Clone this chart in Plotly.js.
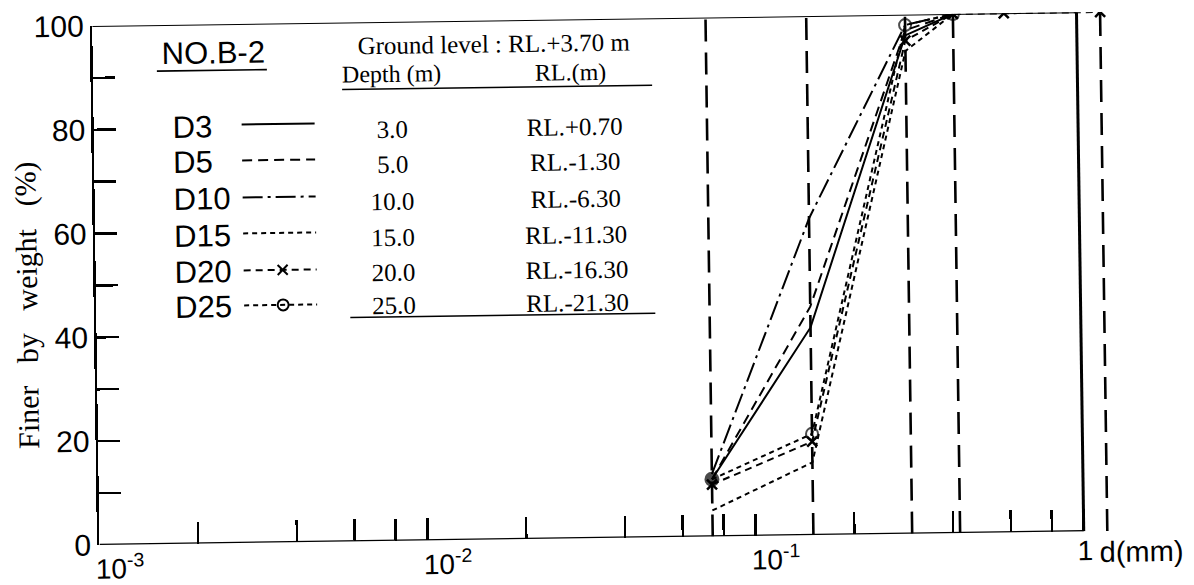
<!DOCTYPE html>
<html>
<head>
<meta charset="utf-8">
<script src="https://cdn.plot.ly/plotly-3.0.1.min.js"></script>
<style>
html,body{margin:0;padding:0;background:#fff;overflow:hidden;}
#chart{width:1194px;height:585px;transform:rotate(-0.8deg);transform-origin:597px 292px;}
</style>
</head>
<body>
<div id="chart"></div>
<script>
// ---------------- data ----------------
const sieveX = [0.074, 0.15, 0.3, 0.42];
const d3Val  = [11, 40, 96, 100];
const d5Val  = [11, 44, 97, 100];
const d10Val = [12, 61, 98, 100];
const d15Val = [5, 14, 93, 100];
const d20X   = [0.074, 0.15, 0.3, 0.42, 0.6, 1.18];
const d20Val = [10, 18, 95, 100, 100, 100];
const d25Val = [11, 19.5, 98, 100];

const refLinesX = [0.074, 0.15, 0.3, 0.42, 1.18];   // sieve reference lines (mm)

const seriesNames = ['D3', 'D5', 'D10', 'D15', 'D20', 'D25'];
const depths = ['3.0', '5.0', '10.0', '15.0', '20.0', '25.0'];
const rls = ['RL.+0.70', 'RL.-1.30', 'RL.-6.30', 'RL.-11.30', 'RL.-16.30', 'RL.-21.30'];

const xMajorVals = [0.001, 0.01, 0.1, 1];
const xMajorText = ['10<sup>-3</sup>', '10<sup>-2</sup>', '10<sup>-1</sup>', '1'];
const xMinorVals = [0.002,0.004,0.006,0.008,0.02,0.04,0.06,0.08,0.2,0.4,0.6,0.8];
const yMajorVals = [0, 20, 40, 60, 80, 100];
const yMinorVals = [10, 30, 50, 70, 90];

// ---------------- layout helpers ----------------
const M = {l:96, r:71, t:19, b:47};
const PW = 1194 - M.l - M.r, PH = 585 - M.t - M.b;
const px = p => (p - M.l) / PW;
const py = p => (585 - M.b - p) / PH;

const SANS = 'Liberation Sans, Arial, sans-serif';
const SERIF = 'Liberation Serif, Times New Roman, serif';

const styles = [
  {dash:'solid', symbol:null},
  {dash:'10px,6px', symbol:null},
  {dash:'20px,5px,3px,5px', symbol:null},
  {dash:'5px,4px', symbol:null},
  {dash:'7px,5px', symbol:'x-thin-open'},
  {dash:'5px,4px', symbol:'circle-open'}
];

const traces = [];

// reference sieve lines
refLinesX.forEach(v => {
  traces.push({x:[v, v], y:[0, 100], mode:'lines', showlegend:false, hoverinfo:'skip',
    line:{color:'#000', width:2.6, dash:'22px,11px'}});
});

// frame: top, right, bottom
traces.push({x:[xMajorVals[0], 1], y:[100, 100], mode:'lines', showlegend:false, hoverinfo:'skip', line:{color:'#000', width:2}});
traces.push({x:[1, 1], y:[0, 100], mode:'lines', showlegend:false, hoverinfo:'skip', line:{color:'#000', width:3}});
traces.push({x:[xMajorVals[0], 1], y:[0, 0], mode:'lines', showlegend:false, hoverinfo:'skip', line:{color:'#000', width:2.5}});

// data series
const seriesX = [sieveX, sieveX, sieveX, sieveX, d20X, sieveX];
const seriesY = [d3Val, d5Val, d10Val, d15Val, d20Val, d25Val];
seriesY.forEach((yv, i) => {
  const st = styles[i];
  const t = {x:seriesX[i], y:yv, name:seriesNames[i], showlegend:false,
    mode: st.symbol ? 'lines+markers' : 'lines',
    line:{color:'#000', width:2, dash:st.dash}};
  if (st.symbol === 'circle-open') {
    t.marker = {symbol: yv.map((_, k) => k === 0 ? 'circle' : 'circle-open'), size: yv.map((_, k) => k === 0 ? 13 : 12), color:'#000', line:{color:'#000', width:2}};
  } else if (st.symbol) {
    t.marker = {symbol:st.symbol, size:10, color:'#000', line:{color:'#000', width:2.5}};
  }
  traces.push(t);
});

// custom legend samples (overlay axes in paper-like coordinates)
const legendRowY = [119.5, 155.5, 192.5, 228.5, 265.5, 300.5];
seriesNames.forEach((n, i) => {
  const st = styles[i];
  traces.push({x:[px(244), px(317)], y:[py(legendRowY[i]), py(legendRowY[i])], xaxis:'x2', yaxis:'y2',
    mode:'lines', showlegend:false, hoverinfo:'skip', line:{color:'#000', width:2, dash:st.dash}});
  if (st.symbol) {
    traces.push({x:[px(283)], y:[py(legendRowY[i])], xaxis:'x2', yaxis:'y2', mode:'markers', showlegend:false, hoverinfo:'skip',
      marker:{symbol:st.symbol, size: st.symbol === 'circle-open' ? 11 : 10, color:'#000', line:{color:'#000', width:2}}});
  }
});

// ---------------- annotations ----------------
const ann = [];
function txt(text, x, y, size, family, opts) {
  ann.push(Object.assign({xref:'paper', yref:'paper', x:px(x), y:py(y), text:text, showarrow:false,
    xanchor:'center', yanchor:'middle', font:{size:size, family:family, color:'#000'}}, opts || {}));
}
txt('NO.B-2', 216, 47, 31, SANS);
const legendLabelY = [121.4, 156.4, 193.4, 230.4, 266.4, 301.4];
seriesNames.forEach((n, i) => txt(n, 173, legendLabelY[i], 31, SANS, {xanchor:'left'}));

txt('Ground level : RL.+3.70 m', 497, 43, 25, SERIF);
txt('Depth (m)', 394, 71, 24, SERIF);
txt('RL.(m)', 573, 72, 24, SERIF);
const rowY = [126, 162, 198, 234, 269, 302];
depths.forEach((d, i) => txt(d, 394, rowY[i], 25, SERIF));
rls.forEach((r, i) => txt(r, 577, rowY[i], 25, SERIF));

const sp = '&nbsp;&nbsp;&nbsp;';
txt('Finer' + sp + 'by' + sp + 'weight' + sp + '(%)', 27, 298, 30, SERIF, {textangle:-90});
txt('d(mm)', 1138, 559, 29, SANS);

// x-axis decade labels, placed on the log axis (annotation x in log10 units)
xMajorVals.forEach((v, i) => {
  ann.push({xref:'x', yref:'y', x:Math.log10(v), y:0, text:xMajorText[i], showarrow:false,
    xanchor:'left', yanchor:'top', xshift: i === 3 ? -8 : -6, yshift:-2,
    font:{size:28, family:SANS, color:'#000'}});
});

const shapes = [
  {type:'line', xref:'paper', yref:'paper', x0:px(160), x1:px(270), y0:py(65), y1:py(65), line:{color:'#000', width:1.6}},
  {type:'line', xref:'paper', yref:'paper', x0:px(345), x1:px(655), y0:py(86), y1:py(86), line:{color:'#000', width:1.6}},
  {type:'line', xref:'paper', yref:'paper', x0:px(350), x1:px(655), y0:py(314), y1:py(314), line:{color:'#000', width:1.6}}
];

const layout = {
  width:1194, height:585,
  margin:M,
  paper_bgcolor:'#fff', plot_bgcolor:'#fff',
  showlegend:false,
  xaxis:{type:'log', range:[-3, 0.13], showgrid:false, zeroline:false, showline:false,
    tickmode:'array', tickvals:xMajorVals, showticklabels:false,
    ticks:'inside', ticklen:22, tickwidth:2.5, tickcolor:'#000',
    minor:{tickmode:'array', tickvals:xMinorVals, ticks:'inside', ticklen:22, tickwidth:2.5, tickcolor:'#000', showgrid:false}},
  yaxis:{range:[0, 100], showgrid:false, zeroline:false, showline:true, linecolor:'#000', linewidth:2.5,
    tickmode:'array', tickvals:yMajorVals, ticktext:yMajorVals.map(String),
    ticks:'inside', ticklen:22, tickwidth:2.5, tickcolor:'#000',
    minor:{tickmode:'array', tickvals:yMinorVals, ticks:'inside', ticklen:22, tickwidth:2.5, tickcolor:'#000', showgrid:false},
    tickfont:{size:30, family:SANS, color:'#000'}},
  xaxis2:{overlaying:'x', range:[0, 1], visible:false, anchor:'y2'},
  yaxis2:{overlaying:'y', range:[0, 1], visible:false, anchor:'x2'},
  annotations:ann,
  shapes:shapes
};

Plotly.newPlot('chart', traces, layout, {displayModeBar:false, staticPlot:true});
</script>
</body>
</html>
